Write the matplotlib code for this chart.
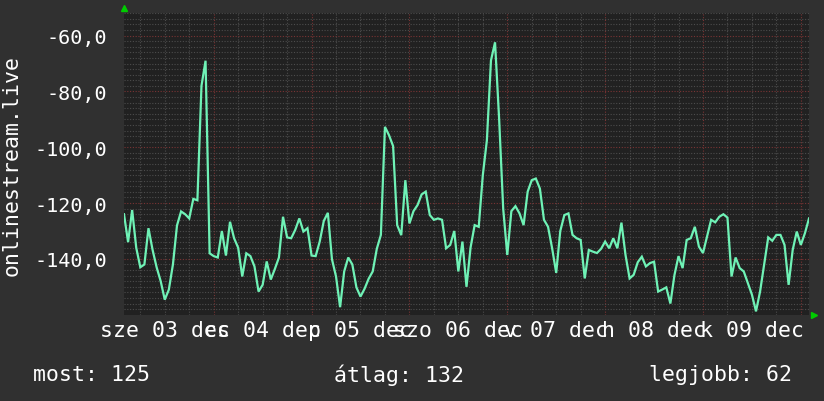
import numpy as np
import matplotlib
matplotlib.use("Agg")
import matplotlib.pyplot as plt
from matplotlib.transforms import blended_transform_factory

# ---- data (hourly samples, hours since 3 Dec 00:00, starting 02:00) ----
start_hour = 2
values = [
    -124, -134, -122.5, -136, -143, -142, -129, -136.7, -143, -148,
    -154.6, -151, -142, -128, -123, -124, -125.5, -118.5, -119, -78,
    -69, -138, -139, -139.5, -130, -138.8, -126.7, -132.6, -136, -146.3,
    -138, -139, -142.7, -151.7, -149.3, -140.9, -147.4, -143.6, -139.5, -124.9,
    -132.3, -132.6, -129.6, -125.5, -130.2, -129, -138.8, -139, -133.8, -126.4,
    -123.5, -140.1, -146.3, -157.3, -144.5, -139.5, -142, -150.2, -153.5, -150.7,
    -147.1, -144.5, -136.4, -131.4, -92.7, -95.7, -99.6, -127.9, -131.5, -111.8,
    -127.3, -122.9, -120.7, -116.9, -115.9, -124.3, -126, -125.5, -126, -136.2,
    -135, -130, -144.5, -133.8, -150, -135.9, -127.9, -128.5, -110, -97.5,
    -68.9, -62.4, -89.8, -122, -138.6, -122.9, -121.1, -123.7, -127.9, -115.9,
    -111.8, -111.2, -114.8, -126, -128.5, -136.2, -145, -130, -124.3, -123.7,
    -131.4, -132.6, -133.2, -147, -136.8, -137.4, -137.9, -136.4, -133.8, -136.2,
    -132.6, -136.2, -127, -138.6, -147, -145.7, -141.2, -139.2, -142.7, -141.5,
    -141, -151.7, -151, -150.2, -156, -145.8, -139, -143.3, -133.2, -132.6,
    -128.5, -135.6, -137.9, -132, -126, -126.9, -124.9, -124, -125.2, -146.3,
    -139.5, -143.3, -144.5, -148.7, -152.8, -158.8, -151.7, -142.1, -132.3, -133.5,
    -131.4, -131.4, -135, -149.3, -136.8, -130.2, -135, -130.8, -125.5,
]
hours = start_hour + np.arange(len(values))

day_labels = ["sze 03 dec", "cs 04 dec", "p 05 dec", "szo 06 dec",
              "v 07 dec", "h 08 dec", "k 09 dec"]
y_ticks = [-140, -120, -100, -80, -60]
y_label = "onlinestream.live"
stats = ["most: 125", "átlag: 132", "legjobb: 62"]

# ---- styling ----
BG = "#303030"
PLOT_BG = "#212121"
LINE = "#6ff2b6"
MINOR = "#4c4c4c"
MAJOR = "#7a3434"
TXT = "#ffffff"
MONO = "DejaVu Sans Mono"

fig = plt.figure(figsize=(8.24, 4.02), dpi=100, facecolor=BG)
W, H = 824, 402
ax = fig.add_axes([124 / W, 1 - 316 / H, 685 / W, 302 / H])
ax.set_facecolor(PLOT_BG)

ax.set_xlim(hours[0], hours[-1])
ax.set_ylim(-160.1, -51.9)

# grids
midnights = np.arange(24, hours[-1] + 1, 24)
sixes = np.arange(6, hours[-1] + 1, 6)
ax.set_xticks(midnights)
ax.set_xticks([h for h in sixes if h % 24 != 0], minor=True)
ax.set_yticks(y_ticks)
ax.set_yticks([v for v in range(-160, -50, 2) if v % 20 != 0], minor=True)
ax.grid(which="minor", color=MINOR, linestyle=(0, (1, 1.5)), linewidth=0.8)
ax.grid(which="major", color=MAJOR, linestyle=(0, (1, 1.5)), linewidth=0.8)
ax.set_axisbelow(True)

ax.tick_params(which="both", length=0, colors=TXT)
ax.set_xticklabels([])
ax.set_yticklabels([f"{v:.1f}".replace(".", ",") for v in y_ticks],
                   fontfamily=MONO, fontsize=14.5, color=TXT)
ax.tick_params(axis="y", pad=12)

for s in ax.spines.values():
    s.set_visible(False)

ax.plot(hours, values, color=LINE, linewidth=1.6, solid_joinstyle="miter")

# day labels centered at noon
trans = blended_transform_factory(ax.transData, ax.transAxes)
for i, lab in enumerate(day_labels):
    ax.text(12 + 24 * i, -0.05, lab, transform=trans, ha="center", va="center",
            fontfamily=MONO, fontsize=15.5, color=TXT, clip_on=False)

fig.text(12 / W, 1 - 165 / H, y_label, rotation=90, ha="center", va="center",
         fontfamily=MONO, fontsize=15.5, color=TXT)

# arrows
ax.plot([0], [1.015], marker="^", color="#00cc00", markersize=5,
        transform=ax.transAxes, clip_on=False)
ax.plot([1.008], [0], marker=">", color="#00cc00", markersize=5,
        transform=ax.transAxes, clip_on=False)

fig.text(33 / W, 1 - 375 / H, stats[0], ha="left", va="center",
         fontfamily=MONO, fontsize=15.5, color=TXT)
fig.text(334 / W, 1 - 375 / H, stats[1], ha="left", va="center",
         fontfamily=MONO, fontsize=15.5, color=TXT)
fig.text(792 / W, 1 - 375 / H, stats[2], ha="right", va="center",
         fontfamily=MONO, fontsize=15.5, color=TXT)

fig.savefig("out.png", dpi=100, facecolor=BG)
